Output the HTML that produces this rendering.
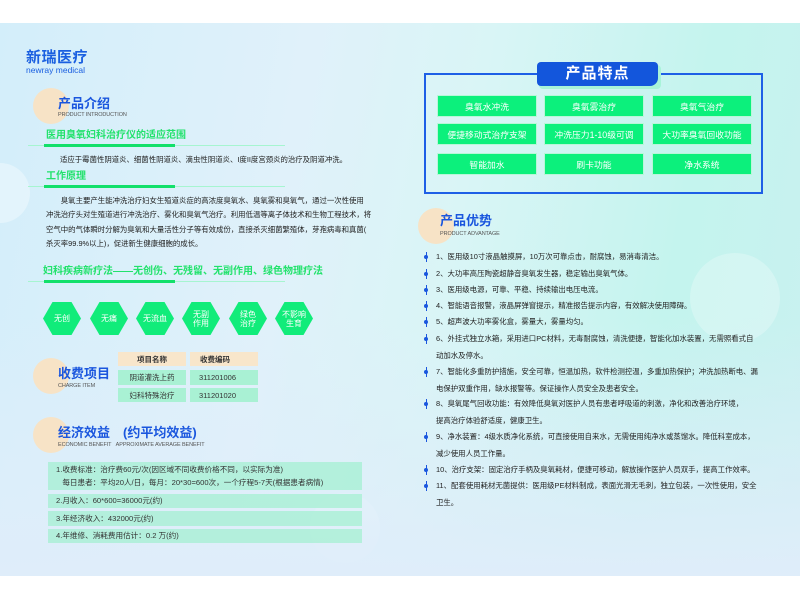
<!DOCTYPE html>
<html><head><meta charset="utf-8">
<style>
*{margin:0;padding:0;box-sizing:border-box}
body{width:800px;height:600px;background:#fff;position:relative;overflow:hidden;font-family:"Liberation Sans","Noto Sans CJK SC",sans-serif}
#pg{position:absolute;left:0;top:23px;width:800px;height:553px;background:linear-gradient(100deg,#d3eefa 0%,#e0f1fa 35%,#d9f5f6 55%,#c4f4ee 80%,#c9f1f0 100%);overflow:hidden}
#pg:after{content:"";position:absolute;left:0;right:0;bottom:0;height:260px;background:linear-gradient(180deg,rgba(225,238,250,0),#dfedfa)}
.a{position:absolute;white-space:nowrap}
.z{z-index:2}
.circ{position:absolute;border-radius:50%;background:#f7e3c6;z-index:2}
.tt{position:absolute;color:#1a56de;font-weight:bold;z-index:3;white-space:nowrap;line-height:1}
.sub{position:absolute;color:#555;font-size:5.5px;z-index:3;white-space:nowrap;letter-spacing:-.1px;line-height:1}
.gh{position:absolute;color:#22e26c;font-weight:bold;font-size:10px;z-index:3;white-space:nowrap;line-height:1}
.ln{position:absolute;height:1px;background:#a6f5d0;z-index:2}
.lb{position:absolute;height:3px;background:#12e06a;z-index:3}
.p{position:absolute;font-size:7.4px;color:#222;z-index:3;white-space:nowrap;line-height:14.3px}
.hex{position:absolute;width:38px;height:33px;background:#11ec7a;clip-path:polygon(25% 0,75% 0,100% 50%,75% 100%,25% 100%,0 50%);color:#fff;font-size:8px;display:flex;align-items:center;justify-content:center;text-align:center;line-height:9px;z-index:3}
.tc{position:absolute;font-size:7.5px;color:#333;display:flex;align-items:center;justify-content:center;z-index:3}
.bx{position:absolute;left:48px;width:314px;background:rgba(150,240,200,.6);font-size:7.6px;color:#333;z-index:3;padding-left:8px;white-space:nowrap}
.gb{position:absolute;width:98px;height:20px;background:#0cf07c;color:#fff;font-size:8.8px;display:flex;align-items:center;justify-content:center;z-index:3;box-shadow:0 0 0 1px #b8f7d8}
.li{position:absolute;left:436px;font-size:7.4px;color:#222;z-index:3;white-space:nowrap;line-height:16.5px}
.bu{position:absolute;left:423px;width:6px;height:10px;z-index:3}
.bu:before{content:"";position:absolute;left:1px;top:3px;width:4px;height:4px;background:#1a56de;border-radius:50%}
.bu:after{content:"";position:absolute;left:2.5px;top:0;width:1px;height:10px;background:#1a56de}
</style></head><body>
<div id="pg">
<div class="a" style="left:-30px;top:140px;width:60px;height:60px;border-radius:50%;background:rgba(255,255,255,.35)"></div>
<div class="a" style="left:690px;top:230px;width:90px;height:90px;border-radius:50%;background:rgba(255,255,255,.25)"></div>
<div class="a" style="left:310px;top:470px;width:70px;height:70px;border-radius:50%;background:rgba(255,255,255,.35)"></div>
</div>

<div class="a z" style="left:26px;top:50px;font-size:15px;line-height:1;color:#1a5fe0;font-weight:bold;letter-spacing:.5px">新瑞医疗</div>
<div class="a z" style="left:26px;top:66px;font-size:8.5px;line-height:1;color:#1a5fe0">newray medical</div>

<div class="circ" style="left:33px;top:88px;width:36px;height:36px"></div>
<div class="tt" style="left:58px;top:97px;font-size:13px">产品介绍</div>
<div class="sub" style="left:58px;top:113px">PRODUCT INTRODUCTION</div>

<div class="gh" style="left:46px;top:131px">医用臭氧妇科治疗仪的适应范围</div>
<div class="ln" style="left:28px;top:145px;width:257px"></div>
<div class="lb" style="left:44px;top:144px;width:131px"></div>
<div class="p" style="left:60px;top:153px">适应于霉菌性阴道炎、细菌性阴道炎、滴虫性阴道炎、I度II度宫颈炎的治疗及阴道冲洗。</div>

<div class="gh" style="left:46px;top:172px">工作原理</div>
<div class="ln" style="left:28px;top:186px;width:257px"></div>
<div class="lb" style="left:44px;top:185px;width:131px"></div>
<div class="p" style="left:46px;top:194px">　　臭氧主要产生能冲洗治疗妇女生殖道炎症的高浓度臭氧水、臭氧雾和臭氧气，通过一次性使用<br>冲洗治疗头对生殖道进行冲洗治疗、雾化和臭氧气治疗。利用低温等离子体技术和生物工程技术，将<br>空气中的气体瞬时分解为臭氧和大量活性分子等有效成份，直接杀灭细菌繁殖体，芽孢病毒和真菌(<br>杀灭率99.9%以上)，促进新生健康细胞的成长。</div>

<div class="gh" style="left:43px;top:267px">妇科疾病新疗法——无创伤、无残留、无副作用、绿色物理疗法</div>
<div class="ln" style="left:28px;top:281px;width:257px"></div>
<div class="lb" style="left:44px;top:280px;width:131px"></div>

<div class="hex" style="left:43px;top:302px">无创</div>
<div class="hex" style="left:90px;top:302px">无痛</div>
<div class="hex" style="left:136px;top:302px">无流血</div>
<div class="hex" style="left:182px;top:302px">无副<br>作用</div>
<div class="hex" style="left:229px;top:302px">绿色<br>治疗</div>
<div class="hex" style="left:275px;top:302px">不影响<br>生育</div>

<div class="circ" style="left:33px;top:358px;width:36px;height:36px"></div>
<div class="tt" style="left:58px;top:367px;font-size:13px">收费项目</div>
<div class="sub" style="left:58px;top:384px">CHARGE ITEM</div>
<div class="a z" style="left:118px;top:352px;width:68px;height:14px;background:#f8e6cb"></div>
<div class="a z" style="left:190px;top:352px;width:68px;height:14px;background:#f8e6cb"></div>
<div class="tc" style="left:118px;top:352px;width:68px;height:14px;font-weight:bold">项目名称</div>
<div class="tc" style="left:190px;top:352px;width:68px;height:14px;font-weight:bold;justify-content:flex-start;padding-left:10px">收费编码</div>
<div class="a z" style="left:118px;top:370px;width:68px;height:15px;background:#a9f1d4"></div>
<div class="a z" style="left:190px;top:370px;width:68px;height:15px;background:#a9f1d4"></div>
<div class="tc" style="left:118px;top:370px;width:68px;height:15px">阴道灌洗上药</div>
<div class="tc" style="left:190px;top:370px;width:68px;height:15px;justify-content:flex-start;padding-left:9px">311201006</div>
<div class="a z" style="left:118px;top:388px;width:68px;height:14px;background:#a9f1d4"></div>
<div class="a z" style="left:190px;top:388px;width:68px;height:14px;background:#a9f1d4"></div>
<div class="tc" style="left:118px;top:388px;width:68px;height:14px">妇科特殊治疗</div>
<div class="tc" style="left:190px;top:388px;width:68px;height:14px;justify-content:flex-start;padding-left:9px">311201020</div>

<div class="circ" style="left:33px;top:417px;width:36px;height:36px"></div>
<div class="tt" style="left:58px;top:426px;font-size:13px">经济效益　(约平均效益)</div>
<div class="sub" style="left:58px;top:443px">ECONOMIC BENEFIT&nbsp;&nbsp;&nbsp;APPROXIMATE AVERAGE BENEFIT</div>

<div class="bx" style="top:462px;height:28px;line-height:12.5px;padding-top:2px">1.收费标准：治疗费60元/次(因区域不同收费价格不同，以实际为准)<br>&nbsp;&nbsp;&nbsp;每日患者：平均20人/日，每月：20*30=600次，一个疗程5-7天(根据患者病情)</div>
<div class="bx" style="top:494px;height:14px;line-height:14px">2.月收入：60*600=36000元(约)</div>
<div class="bx" style="top:511px;height:15px;line-height:15px">3.年经济收入：432000元(约)</div>
<div class="bx" style="top:529px;height:14px;line-height:14px">4.年维修、消耗费用估计：0.2 万(约)</div>

<div class="a z" style="left:424px;top:73px;width:339px;height:121px;border:2px solid #1e5fe6"></div>
<div class="a z" style="left:539px;top:65px;width:122px;height:24px;background:#a8f3d8;border-radius:4px"></div>
<div class="a z" style="left:537px;top:62px;width:121px;height:24px;background:#1356dc;border-radius:4px 4px 8px 4px;color:#fff;font-weight:bold;font-size:15px;text-align:center;line-height:24px;letter-spacing:1px">产品特点</div>
<div class="gb" style="left:438px;top:96px">臭氧水冲洗</div>
<div class="gb" style="left:545px;top:96px">臭氧雾治疗</div>
<div class="gb" style="left:653px;top:96px">臭氧气治疗</div>
<div class="gb" style="left:438px;top:124px">便捷移动式治疗支架</div>
<div class="gb" style="left:545px;top:124px">冲洗压力1-10级可调</div>
<div class="gb" style="left:653px;top:124px">大功率臭氧回收功能</div>
<div class="gb" style="left:438px;top:154px">智能加水</div>
<div class="gb" style="left:545px;top:154px">刷卡功能</div>
<div class="gb" style="left:653px;top:154px">净水系统</div>

<div class="circ" style="left:418px;top:208px;width:36px;height:36px"></div>
<div class="tt" style="left:440px;top:214px;font-size:13px">产品优势</div>
<div class="sub" style="left:440px;top:232px">PRODUCT ADVANTAGE</div>

<div class="bu" style="top:252px"></div><div class="li" style="top:249px">1、医用级10寸液晶触摸屏，10万次可靠点击，耐腐蚀，易消毒清洁。</div>
<div class="bu" style="top:269px"></div><div class="li" style="top:266px">2、大功率高压陶瓷超静音臭氧发生器，稳定输出臭氧气体。</div>
<div class="bu" style="top:285px"></div><div class="li" style="top:282px">3、医用级电源，可靠、平稳、持续输出电压电流。</div>
<div class="bu" style="top:301px"></div><div class="li" style="top:298px">4、智能语音报警，液晶屏弹窗提示，精准报告提示内容，有效解决使用障碍。</div>
<div class="bu" style="top:317px"></div><div class="li" style="top:314px">5、超声波大功率雾化盒，雾量大，雾量均匀。</div>
<div class="bu" style="top:334px"></div><div class="li" style="top:331px">6、外挂式独立水箱，采用进口PC材料，无毒耐腐蚀，清洗便捷，智能化加水装置，无需照看式自<br>动加水及停水。</div>
<div class="bu" style="top:367px"></div><div class="li" style="top:364px">7、智能化多重防护措施，安全可靠，恒温加热，软件检测控温，多重加热保护；冲洗加热断电、漏<br>电保护双重作用，缺水报警等。保证操作人员安全及患者安全。</div>
<div class="bu" style="top:399px"></div><div class="li" style="top:396px">8、臭氧尾气回收功能：有效降低臭氧对医护人员有患者呼吸道的刺激，净化和改善治疗环境，<br>提高治疗体验舒适度，健康卫生。</div>
<div class="bu" style="top:432px"></div><div class="li" style="top:429px">9、净水装置：4级水质净化系统，可直接使用自来水，无需使用纯净水或蒸馏水。降低科室成本，<br>减少使用人员工作量。</div>
<div class="bu" style="top:465px"></div><div class="li" style="top:462px">10、治疗支架：固定治疗手柄及臭氧耗材，便捷可移动，解放操作医护人员双手，提高工作效率。</div>
<div class="bu" style="top:481px"></div><div class="li" style="top:478px">11、配套使用耗材无菌提供：医用级PE材料制成，表面光滑无毛刺，独立包装，一次性使用，安全<br>卫生。</div>
</body></html>
